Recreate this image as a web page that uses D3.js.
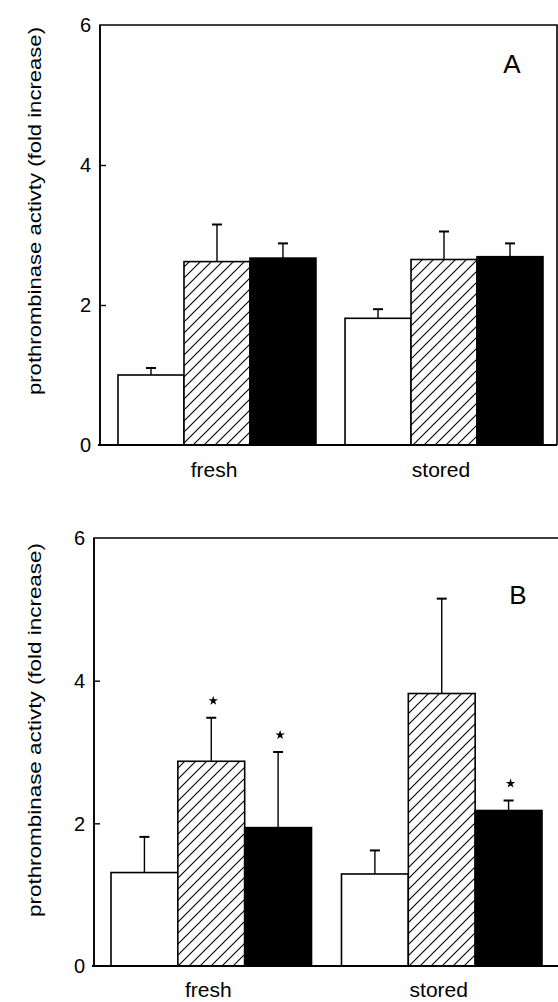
<!DOCTYPE html>
<html><head><meta charset="utf-8">
<script src="https://cdn.jsdelivr.net/npm/d3@7"></script>
<style>html,body{margin:0;padding:0;background:#fff;}svg{display:block;}</style>
</head><body>
<script>
// ---- data ----
const categories = ["fresh", "stored"];
const series = ["control", "treatment1", "treatment2"]; // white, hatched, black
const yTicks = [0, 2, 4, 6];
const panelLabels = ["A", "B"];
const yLabel = "prothrombinase activty (fold increase)";
// Panel A
const valuesA = [[1.00, 2.62, 2.67], [1.81, 2.65, 2.69]];
const errTopA = [[1.10, 3.15, 2.88], [1.94, 3.05, 2.88]];
const starsA = [[false, false, false], [false, false, false]];
// Panel B
const valuesB = [[1.31, 2.87, 1.94], [1.29, 3.82, 2.18]];
const errTopB = [[1.81, 3.48, 3.00], [1.62, 5.15, 2.32]];
const starsB = [[false, true, true], [false, false, true]];

const W = 558, H = 1002;
const svg = d3.select("body").append("svg").attr("width", W).attr("height", H);
const defs = svg.append("defs");
const pat = defs.append("pattern").attr("id", "hatch").attr("patternUnits", "userSpaceOnUse")
  .attr("width", 11).attr("height", 11);
pat.append("rect").attr("width", 11).attr("height", 11).attr("fill", "#fff");
pat.append("path").attr("d", "M-1,12 L12,-1 M-3,3 L3,-3 M8,14 L14,8").attr("stroke", "#000").attr("stroke-width", 1.1);

const FONT = "'Liberation Sans', Arial, Helvetica, sans-serif";
const star = d3.symbol().type(d3.symbolStar).size(28);

function panel(cfg) {
  const g = svg.append("g");
  const y = d3.scaleLinear().domain([0, 6]).range([cfg.bottom, cfg.top]);
  const x0 = d3.scaleBand().domain(categories).range([cfg.bandL, cfg.bandR]).paddingInner(cfg.padIn).paddingOuter(0);
  const x1 = d3.scaleBand().domain(series).range([0, x0.bandwidth()]).padding(0);

  // frame (top & right)
  g.append("path").attr("d", `M${cfg.left},${cfg.bottom} L${cfg.left},${cfg.top} L${cfg.right},${cfg.top} L${cfg.right},${cfg.bottom}`)
    .attr("fill", "none").attr("stroke", "#000").attr("stroke-width", 1.6);

  // bars
  categories.forEach((c, ci) => {
    series.forEach((s, si) => {
      const v = cfg.values[ci][si];
      const bx = x0(c) + x1(s);
      g.append("rect").attr("x", bx).attr("y", y(v)).attr("width", x1.bandwidth()).attr("height", y(0) - y(v))
        .attr("fill", si === 0 ? "#fff" : si === 1 ? "url(#hatch)" : "#000")
        .attr("stroke", "#000").attr("stroke-width", 1.6);
      const e = cfg.err[ci][si];
      const cx = bx + x1.bandwidth() / 2;
      g.append("line").attr("x1", cx).attr("x2", cx).attr("y1", y(v)).attr("y2", y(e))
        .attr("stroke", "#000").attr("stroke-width", 1.4);
      g.append("line").attr("x1", cx - 5).attr("x2", cx + 5).attr("y1", y(e)).attr("y2", y(e))
        .attr("stroke", "#000").attr("stroke-width", 2);
      if (cfg.stars[ci][si]) {
        g.append("path").attr("d", star).attr("transform", `translate(${cx + 2},${y(e) - 17})`).attr("fill", "#000");
      }
    });
    g.append("text").attr("x", x0(c) + x0.bandwidth() / 2 - 3).attr("y", cfg.catY)
      .attr("text-anchor", "middle").attr("font-family", FONT).attr("font-size", 21).text(c);
  });

  // y axis
  const axis = d3.axisRight(y).tickValues(yTicks).tickSize(6).tickFormat("");
  const ag = g.append("g").attr("transform", `translate(${cfg.left},0)`).call(axis);
  ag.select(".domain").remove();
  ag.selectAll(".tick line").attr("stroke", "#000").attr("stroke-width", 1.4)
    .attr("display", d => (d === 0 || d === 6) ? "none" : null);
  yTicks.forEach(t => {
    g.append("text").attr("x", cfg.left - 9).attr("y", y(t)).attr("dy", "0.36em")
      .attr("text-anchor", "end").attr("font-family", FONT).attr("font-size", 20).text(d3.format("d")(t));
  });
  g.append("line").attr("x1", cfg.left).attr("x2", cfg.left).attr("y1", cfg.top).attr("y2", cfg.bottom)
    .attr("stroke", "#000").attr("stroke-width", 1.6);
  g.append("line").attr("x1", cfg.left - 2).attr("x2", cfg.axisEnd).attr("y1", cfg.bottom).attr("y2", cfg.bottom)
    .attr("stroke", "#000").attr("stroke-width", 1.8);

  // y label
  const cy = cfg.labelCY;
  g.append("text").attr("transform", `translate(41,${cy}) rotate(-90)`).attr("text-anchor", "middle")
    .attr("font-family", FONT).attr("font-size", 19).attr("textLength", cfg.labelLen).attr("lengthAdjust", "spacingAndGlyphs")
    .text(yLabel);

  // panel letter
  g.append("text").attr("x", cfg.letterX).attr("y", cfg.letterY).attr("text-anchor", "middle")
    .attr("font-family", FONT).attr("font-size", 26).text(cfg.letter);
}

panel({top: 25, bottom: 445, left: 100, right: 557, axisEnd: 557, bandL: 118, bandR: 543, padIn: 0.128,
  values: valuesA, err: errTopA, stars: starsA, catY: 477, labelCY: 211, labelLen: 368,
  letter: panelLabels[0], letterX: 512, letterY: 73});
panel({top: 538, bottom: 966, left: 94, right: 562, axisEnd: 558, bandL: 111, bandR: 542, padIn: 0.13,
  values: valuesB, err: errTopB, stars: starsB, catY: 997, labelCY: 730, labelLen: 374,
  letter: panelLabels[1], letterX: 518, letterY: 604});
</script>
</body></html>
